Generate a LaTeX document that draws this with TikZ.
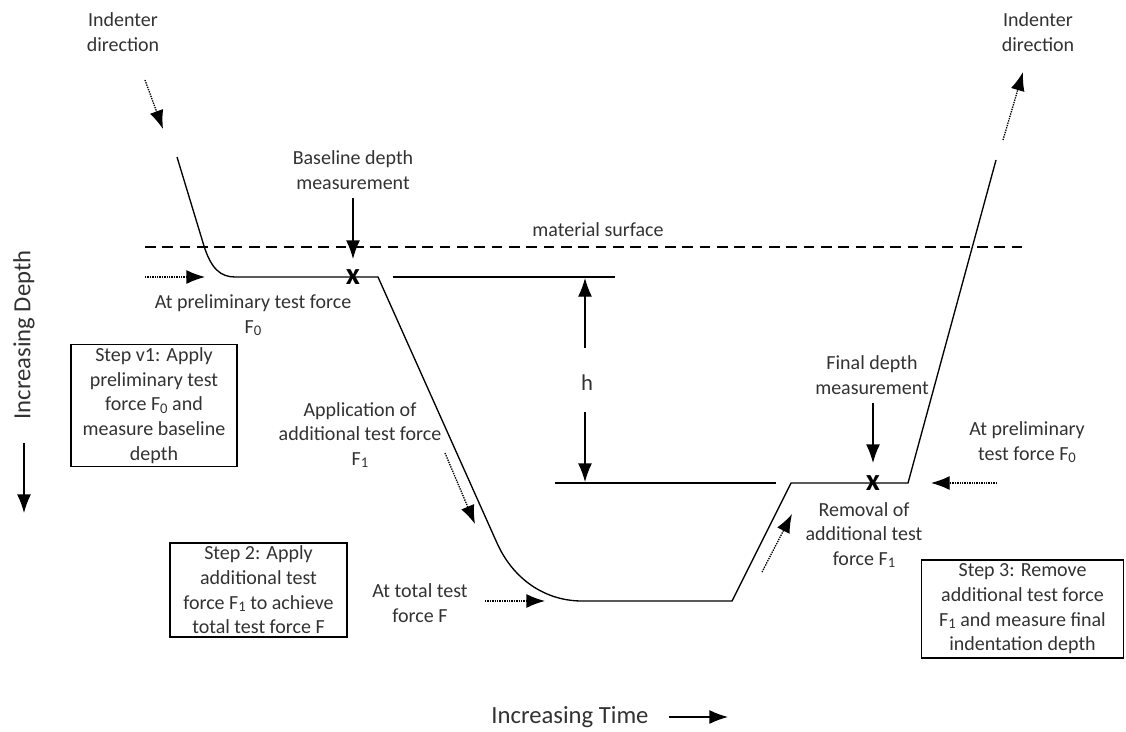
\documentclass[tikz,border=0pt]{standalone}
\usepackage{fontspec}
\setmainfont{Carlito}
\usetikzlibrary{arrows.meta}
\definecolor{TxtGray}{RGB}{50,50,50}
\newcommand{\lowsub}[1]{\raisebox{-0.25ex}{\fontsize{11}{11}\selectfont #1}}

\tikzset{
  lbl/.style={text=TxtGray, align=center, inner sep=0pt, font=\fontsize{15}{18.5}\selectfont},
  biglbl/.style={lbl, font=\fontsize{18.5}{22}\selectfont},
  stepbox/.style={lbl, draw=black, line width=0.8pt},
  xmark/.style={inner sep=0pt, font=\fontsize{23}{23}\selectfont\bfseries},
  curve/.style={line width=1pt},
  arr/.style={-{Latex[length=14pt,width=10.5pt]}, line width=1pt},
  darr/.style={arr, line width=1pt, dash pattern=on 1pt off 0.8pt},
}

\begin{document}
\begin{tikzpicture}[x=0.75pt, y=-0.75pt]
\pgfmathsetmacro{\ys}{247} % material surface
\pgfmathsetmacro{\yb}{277} % baseline depth (F0)
\pgfmathsetmacro{\yf}{483} % final depth
\pgfmathsetmacro{\yt}{601} % depth at total force F

\useasboundingbox (0,0) rectangle (1126,731);

% indenter path
\draw[curve] (177,157) -- (204,246) .. controls (211,268) and (220,\yb) .. (235,\yb) -- (378,\yb) -- (497,543)
  .. controls (513,579) and (545,\yt) .. (582,\yt) -- (732,\yt) -- (791,\yf) -- (908,\yf) -- (996,160);

\draw[curve, dash pattern=on 8pt off 5pt] (145,\ys) -- (1027,\ys); % material surface
\draw[curve] (393,\yb) -- (615,\yb); % upper h line
\draw[curve] (555,\yf) -- (776,\yf); % lower h line

% labels
\node[lbl] (indL) at (123,32) {Indenter\\direction};
\node[lbl] (indR) at (1038,32) {Indenter\\direction};
\node[lbl] (basetxt) at (353,170) {Baseline depth\\measurement};
\node[lbl] (surftxt) at (598,230) {material surface};
\node[lbl] (preL) at (253,315) {At preliminary test force\\F\lowsub{0}};
\node[lbl] (apptxt) at (360,435) {Application of\\additional test force\\F\lowsub{1}};
\node[lbl, font=\fontsize{17}{20}\selectfont] (htxt) at (587,383) {h};
\node[lbl] (finaltxt) at (872,375) {Final depth\\measurement};
\node[lbl] (preR) at (1027,442) {At preliminary\\test force F\lowsub{0}};
\node[lbl] (remtxt) at (864,535) {Removal of\\additional test\\force F\lowsub{1}};
\node[lbl] (tottxt) at (420,603) {At total test\\force F};
\node[biglbl, rotate=90] (depthtxt) at (24,335) {Increasing Depth};
\node[biglbl] (timetxt) at (570,717) {Increasing Time};

% step boxes
\node[stepbox, minimum width=124.5pt, minimum height=92pt] (stepA) at (154,405.5)
  {Step v1: Apply\\preliminary test\\force F\lowsub{0} and\\measure baseline\\depth};
\node[stepbox, minimum width=132.75pt, minimum height=70.5pt] (stepB) at (258.5,590)
  {Step 2: Apply\\additional test\\force F\lowsub{1} to achieve\\total test force F};
\node[stepbox, minimum width=152pt, minimum height=73.5pt] (stepC) at (1022.5,609)
  {Step 3: Remove\\additional test force\\F\lowsub{1} and measure final\\indentation depth};

% measurement marks
\node[xmark] (xb) at (353,\yb) {x};
\node[xmark] (xf) at (873,\yf) {x};

% arrow ends
\coordinate (bs) at (353,198);   \coordinate (be) at (353,259);
\coordinate (fs) at (873,403);   \coordinate (fe) at (873,463);
\coordinate (hus) at (585,348);  \coordinate (hue) at (585,278);
\coordinate (hds) at (585,412);  \coordinate (hde) at (585,482);
\coordinate (ds) at (24,443);    \coordinate (de) at (24,513);
\coordinate (ts) at (669,717);   \coordinate (te) at (728,717);
\coordinate (inLs) at (145,80);  \coordinate (inLe) at (163,129);
\coordinate (inRs) at (1003,140); \coordinate (inRe) at (1023,72);
\coordinate (pLs) at (145,\yb);  \coordinate (pLe) at (205,\yb);
\coordinate (pRs) at (997,\yf);  \coordinate (pRe) at (931,\yf);
\coordinate (aps) at (445,453);  \coordinate (ape) at (475,524);
\coordinate (tts) at (485,\yt);  \coordinate (tte) at (545,\yt);
\coordinate (rms) at (762,572);  \coordinate (rme) at (792,514);

% solid arrows
\draw[arr] (bs) -- (be);
\draw[arr] (fs) -- (fe);
\draw[arr] (hus) -- (hue);
\draw[arr] (hds) -- (hde);
\draw[arr] (ds) -- (de);
\draw[arr] (ts) -- (te);

% dotted arrows
\draw[darr] (inLs) -- (inLe);
\draw[darr] (inRs) -- (inRe);
\draw[darr] (pLs) -- (pLe);
\draw[darr] (pRs) -- (pRe);
\draw[darr] (aps) -- (ape);
\draw[darr] (tts) -- (tte);
\draw[darr] (rms) -- (rme);

\end{tikzpicture}
\end{document}
